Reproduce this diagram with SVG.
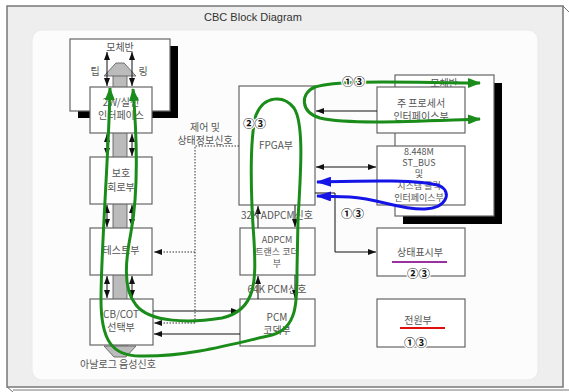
<svg xmlns="http://www.w3.org/2000/svg" width="569" height="392" viewBox="0 0 569 392">
<defs>
<style>
.box{fill:#fff;stroke:#666;stroke-width:1.2}
.t{font-family:"Noto Sans CJK KR","Liberation Sans",sans-serif;font-size:10px;fill:#555;text-anchor:middle}
.s{font-size:9px}
.n{font-family:"Noto Sans CJK KR","Liberation Sans",sans-serif;font-size:11.5px;fill:#111;font-weight:bold;stroke:#fff;stroke-width:2.5px;paint-order:stroke}
.c{stroke:#111;stroke-width:1;fill:none}
.d{stroke:#333;stroke-width:1;fill:none;stroke-dasharray:1.5 1.5}
.g{stroke:#1a8c1a;stroke-width:3;fill:none}
.b{stroke:#1414e6;stroke-width:3;fill:none}
</style>
<marker id="a" markerUnits="userSpaceOnUse" markerWidth="8" markerHeight="6" refX="8" refY="3" orient="auto-start-reverse"><path d="M0,0 L8,3 L0,6 z" fill="#111"/></marker>
<marker id="ag" markerUnits="userSpaceOnUse" markerWidth="13" markerHeight="10" refX="12" refY="5" orient="auto-start-reverse"><path d="M0,0 L13,5 L0,10 z" fill="#1a8c1a"/></marker>
<marker id="ab" markerUnits="userSpaceOnUse" markerWidth="15" markerHeight="10" refX="14" refY="5" orient="auto-start-reverse"><path d="M0,0 L15,5 L0,10 z" fill="#1414e6"/></marker>
</defs>

<!-- frame -->
<rect x="7" y="6" width="556" height="381" fill="#eeeeee" stroke="#777" stroke-width="1.5"/>
<line x1="563" y1="6" x2="569" y2="12" stroke="#777" stroke-width="1"/>
<line x1="7" y1="387" x2="13" y2="392" stroke="#777" stroke-width="1"/>
<line x1="13" y1="390" x2="569" y2="390" stroke="#777" stroke-width="1"/>
<rect x="32" y="30" width="506" height="350" rx="10" fill="#fcfcfc" stroke="#eaeaea"/>
<text x="253" y="21" font-family="Liberation Sans, sans-serif" font-size="11" fill="#333" text-anchor="middle">CBC Block Diagram</text>

<!-- left mother board -->
<g id="mb-left">
<rect x="78" y="46" width="100" height="72" fill="#000"/>
<rect class="box" x="70" y="39" width="100" height="72"/>
<text class="t" x="120" y="51">모체반</text>
<text class="t" x="95" y="75">팁</text>
<text class="t" x="143" y="75">링</text>
</g>

<!-- gray column -->
<g id="voice-path">
<rect x="113" y="75" width="14" height="272" fill="#bbb" stroke="#555" stroke-width="0.8"/>
<polygon points="104,76 116,63 124,63 136,76" fill="#bbb" stroke="#555" stroke-width="0.8"/>
<polygon points="104,346 136,346 126,357 114,357" fill="#bbb" stroke="#555" stroke-width="0.8"/>
</g>

<g id="if2w">
<rect class="box" x="90" y="87" width="62" height="46"/>
<text class="t" x="121" y="106">2W/실선</text>
<text class="t" x="121" y="119">인터페이스</text>
</g>
<g id="protect">
<rect class="box" x="90" y="157" width="62" height="47"/>
<text class="t" x="121" y="177">보호</text>
<text class="t" x="121" y="191">회로부</text>
</g>
<g id="test">
<rect class="box" x="90" y="228" width="62" height="47"/>
<text class="t" x="121" y="254">테스트부</text>
</g>
<g id="cbcot">
<rect class="box" x="90" y="299" width="63" height="46"/>
<text class="t" x="121" y="318">CB/COT</text>
<text class="t" x="121" y="331">선택부</text>
<text class="t" x="118" y="368">아날로그 음성신호</text>
</g>

<g id="fpga">
<rect class="box" x="239" y="86" width="76" height="119"/>
<text class="t" x="276" y="149">FPGA부</text>
</g>
<g id="adpcm">
<rect class="box" x="240" y="228" width="75" height="47"/>
<text class="t s" x="277" y="243">ADPCM</text>
<text class="t s" x="277" y="255">트랜스 코더</text>
<text class="t s" x="277" y="267">부</text>
</g>
<g id="pcm">
<rect class="box" x="240" y="299" width="75" height="47"/>
<text class="t" x="277" y="321">PCM</text>
<text class="t" x="277" y="334">코덱부</text>
</g>

<g id="mb-right">
<rect x="403" y="83" width="99" height="141" fill="#000"/>
<rect class="box" x="395" y="75" width="99" height="141"/>
<text class="t" x="444" y="87">모체반</text>
</g>
<g id="mainproc">
<rect class="box" x="377" y="87" width="88" height="46"/>
<text class="t" x="421" y="107">주 프로세서</text>
<text class="t" x="421" y="120">인터페이스부</text>
</g>
<g id="stbus">
<rect class="box" x="377" y="146" width="88" height="59"/>
<text class="t s" x="419" y="155">8.448M</text>
<text class="t s" x="419" y="166">ST_BUS</text>
<text class="t s" x="419" y="177">및</text>
<text class="t s" x="419" y="189">시스템 클럭</text>
<text class="t s" x="419" y="201">인터페이스부</text>
</g>
<g id="status">
<rect class="box" x="377" y="228" width="88" height="48"/>
<text class="t" x="420" y="256">상태표시부</text>
<line x1="392" y1="262" x2="447" y2="262" stroke="#9b30a0" stroke-width="2"/>
</g>
<g id="power">
<rect class="box" x="377" y="299" width="88" height="48"/>
<text class="t" x="418" y="324">전원부</text>
<line x1="400" y1="328" x2="445" y2="328" stroke="#e01010" stroke-width="2"/>
</g>

<g id="connectors">
<line class="c" x1="107" y1="52" x2="107" y2="86" marker-start="url(#a)" marker-end="url(#a)"/>
<line class="c" x1="132" y1="52" x2="132" y2="86" marker-start="url(#a)" marker-end="url(#a)"/>
<line class="c" x1="107" y1="134" x2="107" y2="156" marker-start="url(#a)" marker-end="url(#a)"/>
<line class="c" x1="132" y1="134" x2="132" y2="156" marker-start="url(#a)" marker-end="url(#a)"/>
<line class="c" x1="107" y1="205" x2="107" y2="227" marker-start="url(#a)" marker-end="url(#a)"/>
<line class="c" x1="132" y1="205" x2="132" y2="227" marker-start="url(#a)" marker-end="url(#a)"/>
<line class="c" x1="107" y1="276" x2="107" y2="298" marker-start="url(#a)" marker-end="url(#a)"/>
<line class="c" x1="132" y1="276" x2="132" y2="298" marker-start="url(#a)" marker-end="url(#a)"/>
<line class="c" x1="258" y1="228" x2="258" y2="206" marker-end="url(#a)"/>
<line class="c" x1="295" y1="205" x2="295" y2="227" marker-end="url(#a)"/>
<line class="c" x1="258" y1="299" x2="258" y2="276" marker-end="url(#a)"/>
<line class="c" x1="295" y1="275" x2="295" y2="298" marker-end="url(#a)"/>
<line class="c" x1="377" y1="111" x2="316" y2="111" marker-end="url(#a)"/>
<line class="c" x1="316" y1="167" x2="376" y2="167" marker-start="url(#a)" marker-end="url(#a)"/>
<path class="c" d="M315,193 H335 V252 H376" marker-end="url(#a)"/>
<line class="c" x1="153" y1="311" x2="239" y2="311" marker-end="url(#a)"/>
<line class="c" x1="240" y1="334" x2="154" y2="334" marker-end="url(#a)"/>
<path class="d" d="M239,146 H195 V323"/>
<line class="d" x1="195" y1="252" x2="154" y2="252" marker-end="url(#a)"/>
<line class="d" x1="195" y1="323" x2="154" y2="323" marker-end="url(#a)"/>
</g>

<g id="labels">
<text class="t" x="205" y="131">제어 및</text>
<text class="t" x="205" y="144">상태정보신호</text>
<text class="t" x="277" y="219">32K ADPCM신호</text>
<text class="t" x="277" y="293">64K PCM신호</text>
</g>

<g id="flows">
<path class="g" d="M110,88 C109,150 101,250 101,300 C101,340 112,356 140,356 C190,357 240,342 272,335 C298,328 297,300 297,270 L298,220 C300,180 305,125 294,108 C284,95 264,95 256,115 C249,140 251,200 254,240 C256,280 257,310 222,318 C190,323 150,323 136,305 C122,288 126,258 131,232 C137,200 138,150 133,89" marker-start="url(#ag)" marker-end="url(#ag)"/>
<path class="g" d="M480,83 C420,83 340,79 315,87 C300,93 300,112 320,118 C350,125 420,121 480,119" marker-start="url(#ag)" marker-end="url(#ag)"/>
<path class="b" d="M317,182 C360,181 420,179 440,186 C452,192 447,208 425,209 C400,210 380,199 350,197 L317,196" marker-start="url(#ab)" marker-end="url(#ab)"/>
</g>

<g id="numbers">
<text class="n" x="342" y="86">①③</text>
<text class="n" x="243" y="128">②③</text>
<text class="n" x="341" y="218">①③</text>
<text class="n" x="407" y="278">②③</text>
<text class="n" x="404" y="347">①③</text>
</g>
</svg>
